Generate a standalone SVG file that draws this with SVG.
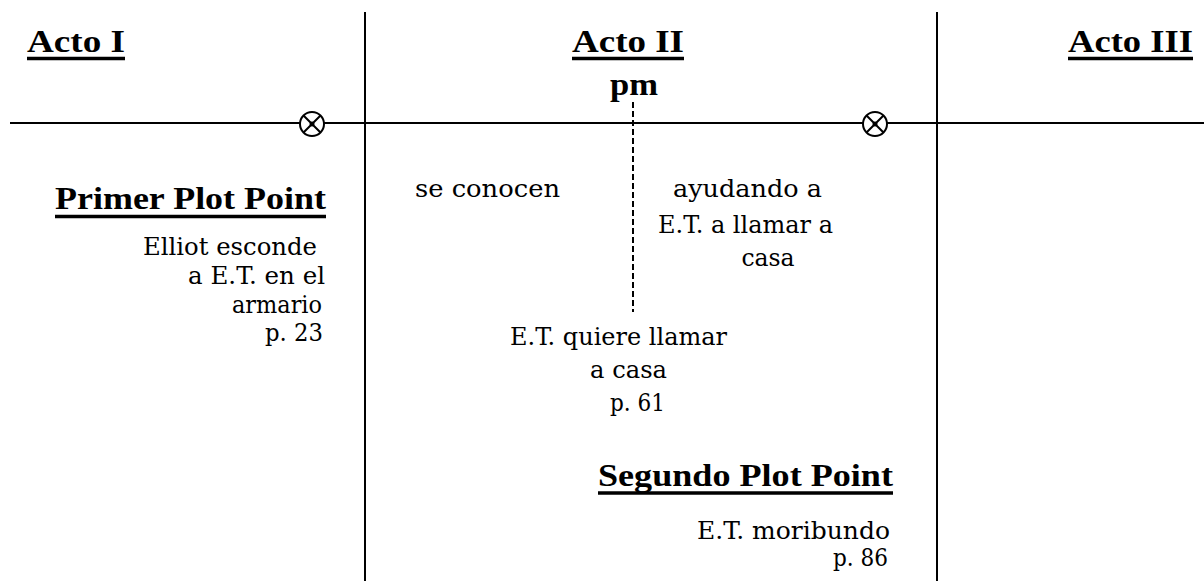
<svg xmlns="http://www.w3.org/2000/svg" width="1204" height="581" viewBox="0 0 1204 581">
<style>
.h{font-family:"Liberation Serif","Times New Roman",serif;font-weight:bold;font-size:31px;fill:#000}
.b{font-family:"DejaVu Serif","Liberation Serif",serif;font-size:23.5px;fill:#000}
.ul{stroke:#000;stroke-width:3.5}
.ax{stroke:#000;stroke-width:2;fill:none}
.ds{stroke:#000;stroke-width:2;stroke-dasharray:6 3;fill:none}
</style>
<defs>
<g id="mk">
<circle cx="0" cy="0" r="12" fill="#fff" stroke="#000" stroke-width="2"/>
<path d="M-8.5,-8.5 L8.5,8.5 M8.5,-8.5 L-8.5,8.5" stroke="#000" stroke-width="2"/>
<circle cx="0" cy="0" r="2.5" fill="#000"/>
</g>
</defs>
<rect width="1204" height="581" fill="#fff"/>
<g id="connectors">
<line class="ax" x1="10" y1="123" x2="1204" y2="123"/>
<line class="ax" x1="365" y1="12" x2="365" y2="581"/>
<line class="ax" x1="937" y1="12" x2="937" y2="581"/>
<line class="ds" x1="633" y1="102" x2="633" y2="312"/>
</g>
<g id="marker1"><use href="#mk" x="312" y="124"/></g>
<g id="marker2"><use href="#mk" x="875" y="124"/></g>
<g id="acto1">
<text class="h" x="27" y="52" textLength="98" lengthAdjust="spacingAndGlyphs">Acto I</text>
<line class="ul" x1="27" y1="58.5" x2="125" y2="58.5"/>
</g>
<g id="acto2">
<text class="h" x="572" y="52" textLength="112" lengthAdjust="spacingAndGlyphs">Acto II</text>
<line class="ul" x1="572" y1="58.5" x2="684" y2="58.5"/>
<text class="h" x="610" y="95" textLength="48" lengthAdjust="spacingAndGlyphs">pm</text>
</g>
<g id="acto3">
<text class="h" x="1068" y="52" textLength="125" lengthAdjust="spacingAndGlyphs">Acto III</text>
<line class="ul" x1="1068" y1="58.5" x2="1193" y2="58.5"/>
</g>
<g id="primer">
<text class="h" x="55" y="209" textLength="271" lengthAdjust="spacingAndGlyphs">Primer Plot Point</text>
<line class="ul" x1="55" y1="216.5" x2="326" y2="216.5"/>
<text class="b" x="143" y="255" textLength="174" lengthAdjust="spacingAndGlyphs">Elliot esconde</text>
<text class="b" x="188" y="284" textLength="137" lengthAdjust="spacingAndGlyphs">a E.T. en el</text>
<text class="b" x="232" y="313" textLength="90" lengthAdjust="spacingAndGlyphs">armario</text>
<text class="b" x="265" y="341" textLength="58" lengthAdjust="spacingAndGlyphs">p. 23</text>
</g>
<g id="seconocen">
<text class="b" x="415" y="197" textLength="145" lengthAdjust="spacingAndGlyphs">se conocen</text>
</g>
<g id="ayudando">
<text class="b" x="673" y="197" textLength="149" lengthAdjust="spacingAndGlyphs">ayudando a</text>
<text class="b" x="658" y="233" textLength="175" lengthAdjust="spacingAndGlyphs">E.T. a llamar a</text>
<text class="b" x="768" y="266" text-anchor="middle">casa</text>
</g>
<g id="midpoint">
<text class="b" x="510" y="345" textLength="217" lengthAdjust="spacingAndGlyphs">E.T. quiere llamar</text>
<text class="b" x="590" y="378" textLength="77" lengthAdjust="spacingAndGlyphs">a casa</text>
<text class="b" x="610" y="411" textLength="55" lengthAdjust="spacingAndGlyphs">p. 61</text>
</g>
<g id="segundo">
<text class="h" x="598" y="486" textLength="295" lengthAdjust="spacingAndGlyphs">Segundo Plot Point</text>
<line class="ul" x1="598" y1="493" x2="893" y2="493"/>
<text class="b" x="697" y="539" textLength="193" lengthAdjust="spacingAndGlyphs">E.T. moribundo</text>
<text class="b" x="833" y="566" textLength="55" lengthAdjust="spacingAndGlyphs">p. 86</text>
</g>
</svg>
